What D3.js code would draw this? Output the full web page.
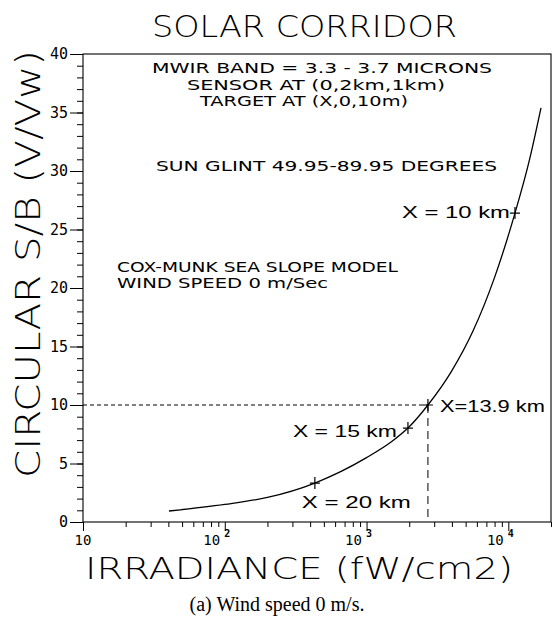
<!DOCTYPE html>
<html><head><meta charset="utf-8">
<script src="https://cdn.jsdelivr.net/npm/d3@7"></script>
<style>body{margin:0;background:#fff}svg{display:block}</style>
</head><body>
<script>
// Data
const irradiance = [40.4, 100, 200, 432, 1000, 1514, 1959, 2710, 3981, 5623, 7943, 11140, 14125, 17000];
const circularSB = [0.94, 1.5, 2.1, 3.33, 5.5, 6.9, 8.03, 10.0, 12.9, 16.3, 20.8, 26.4, 31.0, 35.4];
const markerLabels = ["X = 20 km", "X = 15 km", "X=13.9 km", "X = 10 km"];
const markerIrr = [432, 1959, 2710, 11140];
const markerSB = [3.33, 8.03, 10.0, 26.4];
const yTicks = [0, 5, 10, 15, 20, 25, 30, 35, 40];
const xMajor = [10, 100, 1000, 10000];
const xTickBase = ["10", "10", "10", "10"];
const xTickExp = ["", "2", "3", "4"];
const refSB = 10, refIrr = 2710;

const W = 555, H = 629;
const svg = d3.select("body").append("svg").attr("width", W).attr("height", H);
const x = d3.scaleLog().domain([10, 20000]).range([83, 551]);
const y = d3.scaleLinear().domain([0, 40]).range([522, 54]);
const mono = "DejaVu Sans Mono";
const thin = "DejaVu Sans";

function wideText(t, px, py, len, size, opts = {}) {
  return svg.append("text").attr("x", px).attr("y", py)
    .attr("font-family", opts.family || thin).attr("font-weight", opts.weight || 400)
    .attr("font-size", size).attr("fill", "#000")
    .attr("textLength", len).attr("lengthAdjust", "spacingAndGlyphs").text(t);
}

// frame
svg.append("rect").attr("x", x.range()[0]).attr("y", y(40))
  .attr("width", x.range()[1] - x.range()[0]).attr("height", y(0) - y(40))
  .attr("fill", "none").attr("stroke", "#000").attr("stroke-width", 1.1);

// y axis ticks
const yMinor = d3.range(0, 41, 1);
const gy = svg.append("g").attr("transform", `translate(${x.range()[0]},0)`)
  .call(d3.axisLeft(y).tickValues(yMinor).tickSize(6).tickFormat(""));
gy.select(".domain").remove();
const gy2 = svg.append("g").attr("transform", `translate(${x.range()[0]},0)`)
  .call(d3.axisLeft(y).tickValues(yTicks).tickSize(13).tickPadding(2).tickFormat(d3.format("d")));
gy2.select(".domain").remove();
gy2.selectAll("text").attr("font-family", mono).attr("font-size", 15).attr("fill", "#000");

// x axis ticks
const xMinorVals = [];
[10, 100, 1000, 10000].forEach(b => { for (let k = 2; k <= 9; k++) if (b * k <= 20000) xMinorVals.push(b * k); });
const gx = svg.append("g").attr("transform", `translate(0,${y(0)})`)
  .call(d3.axisBottom(x).tickValues(xMinorVals).tickSize(5).tickFormat(""));
gx.select(".domain").remove();
const gx2 = svg.append("g").attr("transform", `translate(0,${y(0)})`)
  .call(d3.axisBottom(x).tickValues(xMajor).tickSize(9).tickFormat(""));
gx2.select(".domain").remove();
xMajor.forEach((v, i) => {
  const t = svg.append("text").attr("x", x(v) - (xTickExp[i] ? 8 : 0)).attr("y", y(0) + 23)
    .attr("text-anchor", "middle").attr("font-family", mono).attr("font-size", 14).attr("fill", "#000");
  t.append("tspan").text(xTickBase[i]);
  if (xTickExp[i]) t.append("tspan").attr("dy", -8).attr("dx", 4).attr("font-size", 10).attr("font-weight", "bold").text(xTickExp[i]);
});

// dashed reference lines
svg.append("line").attr("x1", x.range()[0]).attr("x2", x(refIrr)).attr("y1", y(refSB)).attr("y2", y(refSB))
  .attr("stroke", "#000").attr("stroke-dasharray", "4,3");
svg.append("line").attr("x1", x(refIrr)).attr("x2", x(refIrr)).attr("y1", y(refSB)).attr("y2", y(0))
  .attr("stroke", "#000").attr("stroke-dasharray", "8,5");

// curve
const line = d3.line().x((d, i) => x(irradiance[i])).y((d, i) => y(circularSB[i])).curve(d3.curveMonotoneX);
svg.append("path").datum(circularSB).attr("d", line).attr("fill", "none").attr("stroke", "#000").attr("stroke-width", 1.3);

// markers
markerIrr.forEach((v, i) => {
  const px = x(v), py = y(markerSB[i]);
  svg.append("path").attr("d", `M${px - 5},${py}H${px + 5}M${px},${py - 6}V${py + 6}`).attr("stroke", "#000").attr("stroke-width", 1.2);
});
// label offsets relative to marker: [dx of left edge, dy of baseline, width]
const lblPos = [[-13, 25, 109], [-115, 9, 104], [12, 7, 105], [-113, 5, 108]];
markerLabels.forEach((s, i) => {
  const p = lblPos[i];
  wideText(s, x(markerIrr[i]) + p[0], y(markerSB[i]) + p[1], p[2], 17, {family: "Liberation Sans"});
});

// annotations
const ann = [
  {t: "MWIR BAND = 3.3 - 3.7 MICRONS", x: 152, y: 73, w: 340},
  {t: "SENSOR AT (0,2km,1km)", x: 187, y: 90, w: 258},
  {t: "TARGET AT (X,0,10m)", x: 200, y: 106, w: 208},
  {t: "SUN GLINT 49.95-89.95 DEGREES", x: 156, y: 171, w: 341},
  {t: "COX-MUNK SEA SLOPE MODEL", x: 117, y: 272, w: 281},
  {t: "WIND SPEED 0 m/Sec", x: 117, y: 288, w: 211}
];
ann.forEach(d => wideText(d.t, d.x, d.y, d.w, 14));

// title & axis labels
wideText("SOLAR CORRIDOR", 152, 37, 305, 30, {weight: 200});
wideText("IRRADIANCE (fW/cm2)", 85, 579, 428, 30, {weight: 200});
svg.append("g").attr("transform", "translate(40,478) rotate(-90)")
  .append("text").attr("x", 0).attr("y", 0)
  .attr("font-family", thin).attr("font-weight", 200).attr("font-size", 33)
  .attr("textLength", 428).attr("lengthAdjust", "spacingAndGlyphs").text("CIRCULAR S/B (V/Vw)");
svg.append("text").attr("x", 277).attr("y", 611).attr("text-anchor", "middle")
  .attr("font-family", "Liberation Serif").attr("font-size", 20).text("(a) Wind speed 0 m/s.");
</script>
</body></html>
